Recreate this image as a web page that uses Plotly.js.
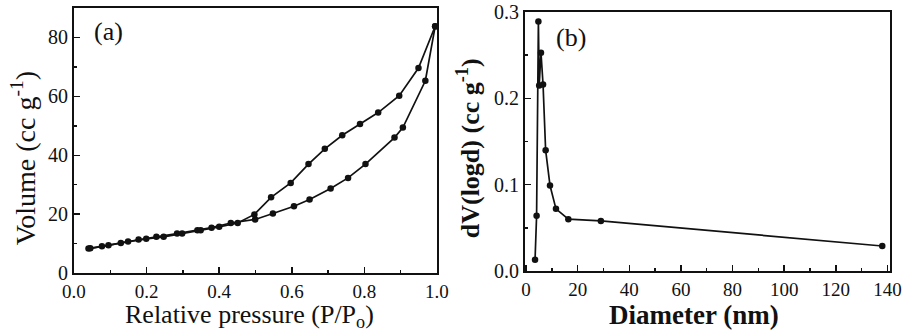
<!DOCTYPE html>
<html><head><meta charset="utf-8">
<script src="https://cdn.plot.ly/plotly-3.0.1.min.js"></script>
<style>html,body{margin:0;padding:0;background:#fff}#chart{width:910px;height:335px}</style>
</head><body><div id="chart"></div>
<script>
// Panel (a): N2 sorption isotherm
const adsP = [0.040,0.077,0.129,0.178,0.227,0.284,0.340,0.379,0.432,0.499,0.548,0.606,0.649,0.707,0.755,0.803,0.883,0.906,0.968,0.995];
const adsV = [8.3,9.1,10.2,11.4,12.3,13.4,14.5,15.4,17.0,18.2,20.2,22.7,25.0,28.7,32.3,37.0,46.0,49.4,65.3,83.8];
const desP = [0.995,0.949,0.896,0.838,0.788,0.739,0.691,0.646,0.597,0.543,0.497,0.451,0.400,0.349,0.298,0.247,0.199,0.149,0.095,0.045];
const desV = [83.8,69.6,60.2,54.5,50.6,46.8,42.2,37.0,30.6,25.7,19.9,17.0,15.7,14.5,13.4,12.3,11.6,10.7,9.4,8.4];
// Panel (b): pore size distribution
const diam = [3.5,4.1,4.8,5.1,5.8,6.6,7.6,9.3,11.6,16.4,29.0,138.0];
const dV   = [0.013,0.064,0.289,0.215,0.253,0.216,0.140,0.099,0.072,0.060,0.058,0.029];
// Texts
const titleXa = 'Relative pressure (P/P<sub>o</sub>)';
const titleYa = 'Volume (cc g<sup>-1</sup>)';
const titleXb = '<b>Diameter (nm)</b>';
const titleYb = '<b>dV(logd) (cc g<sup>-1</sup>)</b>';

const serif = '"Liberation Serif", "Times New Roman", Times, serif';
const line = {color:'#111', width:1.7};
const marker = {color:'#111', size:6.5, symbol:'circle'};

const traces = [
  {x:adsP, y:adsV, mode:'lines+markers', line:line, marker:marker, xaxis:'x', yaxis:'y', showlegend:false},
  {x:desP, y:desV, mode:'lines+markers', line:line, marker:marker, xaxis:'x', yaxis:'y', showlegend:false},
  {x:diam, y:dV, mode:'lines+markers', line:line, marker:marker, xaxis:'x2', yaxis:'y2', showlegend:false}
];

function ax(extra){
  return Object.assign({
    showline:true, mirror:true, linecolor:'#111', linewidth:2,
    ticks:'inside', ticklen:6, tickwidth:1.5, tickcolor:'#111',
    showgrid:false, zeroline:false, automargin:false,
    tickfont:{family:serif, size:20, color:'#111'}
  }, extra);
}
const minor = d => ({ticks:'inside', ticklen:3.5, tickwidth:1.5, tickcolor:'#111', dtick:d});

const layout = {
  width:910, height:335,
  margin:{l:0, r:0, t:0, b:0},
  font:{family:serif, color:'#111'},
  paper_bgcolor:'#fff', plot_bgcolor:'#fff',
  xaxis: ax({domain:[0.0813,0.4802], anchor:'y', range:[0,1], dtick:0.2, tick0:0, tickformat:'.1f', minor:minor(0.1),
    tickfont:{family:serif, size:19, color:'#111'}}),
  yaxis: ax({domain:[0.185,0.976], anchor:'x', range:[0,90], dtick:20, tick0:0, minor:minor(10)}),
  xaxis2: ax({domain:[0.5769,0.978], anchor:'y2', range:[-0.4,141], dtick:20, tick0:0, minor:minor(10),
    tickfont:{family:serif, size:19, color:'#111'}}),
  yaxis2: ax({domain:[0.191,0.964], anchor:'x2', range:[0,0.3], dtick:0.1, tick0:0, tickformat:'.1f', minor:minor(0.05)}),
  annotations:[
    {text:titleXa, xref:'paper', yref:'paper', x:0.2747, y:0.002, xanchor:'center', yanchor:'bottom',
     showarrow:false, font:{family:serif, size:26, color:'#111'}},
    {text:titleXb, xref:'paper', yref:'paper', x:0.7626, y:0.008, xanchor:'center', yanchor:'bottom',
     showarrow:false, font:{family:serif, size:27, color:'#111'}},
    {text:titleYa, xref:'paper', yref:'paper', x:0.0255, y:0.528, textangle:-90,
     xanchor:'center', yanchor:'middle', showarrow:false, font:{family:serif, size:28, color:'#111'}},
    {text:titleYb, xref:'paper', yref:'paper', x:0.5145, y:0.558, textangle:-90,
     xanchor:'center', yanchor:'middle', showarrow:false, font:{family:serif, size:26, color:'#111'}},
    {text:'(a)', xref:'x', yref:'y', x:0.05, y:82, xanchor:'left', yanchor:'middle', showarrow:false,
     font:{family:serif, size:26, color:'#111'}},
    {text:'(b)', xref:'x2', yref:'y2', x:11, y:0.27, xanchor:'left', yanchor:'middle', showarrow:false,
     font:{family:serif, size:26, color:'#111'}}
  ]
};

Plotly.newPlot('chart', traces, layout, {displayModeBar:false, staticPlot:true});
</script>
</body></html>
